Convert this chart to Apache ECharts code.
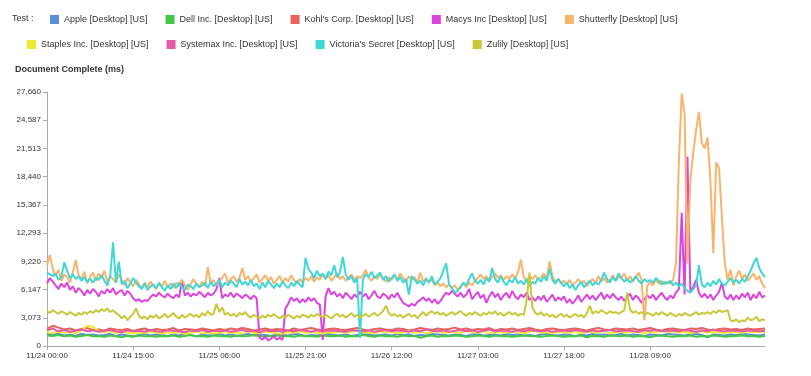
<!DOCTYPE html>
<html>
<head>
<meta charset="utf-8">
<script src="https://cdn.jsdelivr.net/npm/echarts@6/dist/echarts.min.js"></script>
<style>
  html, body { margin: 0; padding: 0; background: #fff; }
  #chart { width: 811px; height: 376px; }
</style>
</head>
<body>
<div id="chart"></div>
<script>
// x values are hours since 11/24 00:00
const xTickLabels = ['11/24 00:00', '11/24 15:00', '11/25 06:00', '11/25 21:00',
  '11/26 12:00', '11/27 03:00', '11/27 18:00', '11/28 09:00']
const xTickStep = 15
const yMax = 27660
const ySteps = 9

const seriesNames = ['Apple [Desktop] [US]', 'Dell Inc. [Desktop] [US]', "Kohl's Corp. [Desktop] [US]",
  'Macys Inc [Desktop] [US]', 'Shutterfly [Desktop] [US]', 'Staples Inc. [Desktop] [US]',
  'Systemax Inc. [Desktop] [US]', "Victoria's Secret [Desktop] [US]", 'Zulily [Desktop] [US]']
const seriesColors = ['#5590d8', '#45c845', '#e8625a', '#dd44dd', '#f8b46c', '#f2e830', '#e35aa6', '#3fd8d4', '#c8c83a']

// hourly samples
const apple = [
  1300, 1200, 1350, 1150, 1250, 1100, 1300, 1200, 1250, 1150,
  1200, 1300, 1100, 1250, 1150, 1050, 1200, 1300, 1150, 1250,
  1200, 1100, 1250, 1150, 1300, 1200, 1050, 1250, 1150, 1200,
  1300, 1150, 1250, 1100, 1200, 1300, 1150, 1250, 1200, 1100,
  1250, 1200, 1150, 1300, 1250, 1100, 1200, 1150, 1250, 1300,
  1200, 1150, 1250, 1100, 1200, 1300, 1250, 1150, 1200, 1250,
  1150, 1300, 1200, 1250, 1100, 1200, 1150, 1300, 1250, 1200,
  1150, 1250, 1200, 1100, 1250, 1300, 1150, 1200, 1250, 1150,
  1300, 1200, 1250, 1150, 1200, 1100, 1250, 1300, 1200, 1150,
  1250, 1200, 1100, 1250, 1150, 1300, 1200, 1250, 1150, 1200,
  1300, 1150, 1250, 1200, 1100, 1250, 1200, 1150, 1300, 1250,
  1200, 1150, 1250, 1300, 1200, 950, 1250, 1200, 1150, 1250,
  1200, 1300, 1250, 1200, 1150, 1250
]
const dell = [
  1150, 1100, 1200, 1050, 1150, 1000, 1100, 1200, 1050, 1100,
  1000, 1150, 1050, 950, 1100, 1000, 1150, 1050, 1100, 1000,
  1100, 1050, 1150, 1000, 1100, 1200, 1050, 1100, 1000, 1150,
  1050, 1100, 1000, 1150, 1050, 1100, 1200, 1050, 1000, 1100,
  1150, 1050, 1100, 1000, 1150, 1050, 1100, 1000, 1150, 1100,
  1050, 1150, 1000, 1100, 1050, 1200, 1100, 1000, 1150, 1050,
  1100, 1000, 1150, 1050, 1100, 900, 1050, 1150, 1000, 1100,
  1050, 1150, 1100, 1000, 1050, 1150, 1100, 1000, 1150, 1050,
  1100, 1000, 1050, 1150, 1100, 1050, 1000, 1100, 1150, 1050,
  1000, 1100, 1050, 1150, 950, 1100, 1050, 1000, 1150, 1100,
  1050, 1150, 1000, 1100, 1050, 950, 1100, 1150, 1050, 1000,
  1100, 1050, 1150, 1000, 1100, 1050, 1150, 1100, 1000, 1050,
  1100, 1150, 1050, 1100, 1000, 1100
]
const kohls = [
  1900, 2200, 2000, 1800, 1900, 1700, 1850, 1950, 1750, 1800,
  1700, 1900, 1800, 1750, 1850, 1650, 1800, 1900, 1700, 1850,
  1750, 1800, 1950, 1700, 1850, 1800, 1750, 1900, 1800, 1700,
  1850, 1750, 1900, 1800, 1950, 1850, 1700, 1800, 1900, 1750,
  1850, 1800, 1700, 1900, 1750, 1850, 1950, 1800, 1700, 1850,
  1900, 1800, 1750, 1850, 1950, 1800, 1700, 1850, 1900, 1800,
  1750, 1900, 1850, 1700, 1800, 1950, 1850, 1750, 1900, 1800,
  1850, 2000, 1800, 1900, 1750, 1850, 1800, 1950, 1700, 1850,
  1800, 1900, 1750, 1850, 1950, 1800, 1700, 1850, 1900, 1800,
  1750, 1850, 1900, 1800, 1700, 1850, 1950, 1800, 1750, 1900,
  1850, 1800, 1900, 1750, 1850, 1950, 1800, 1700, 1850, 1900,
  1800, 1750, 1900, 1850, 1950, 1800, 1700, 1850, 1900, 1800,
  1850, 1750, 1900, 1800, 1850, 1900
]
const staples = [
  1500, 1400, 1600, 1450, 1550, 1350, 1700, 2200, 2100, 1600,
  1500, 1650, 1400, 1550, 1450, 1350, 1500, 1400, 1600, 1450,
  1350, 1500, 1400, 1550, 1300, 1450, 1600, 1400, 1500, 1350,
  1450, 1550, 1400, 1500, 1350, 1600, 1450, 1400, 1550, 1500,
  1400, 1350, 1500, 1450, 1600, 1400, 1550, 1450, 1350, 1500,
  1450, 1600, 1400, 1550, 1700, 1450, 1500, 1400, 1600, 1500,
  1550, 1400, 1500, 1650, 1450, 1550, 1400, 1500, 1600, 1450,
  1500, 1550, 1400, 1650, 1500, 1450, 1600, 1400, 1550, 1500,
  1450, 1600, 1500, 1400, 1550, 1650, 1450, 1500, 1400, 1550,
  1500, 1450, 1600, 1400, 1550, 1500, 1450, 1650, 1400, 1500,
  1550, 1450, 1600, 1500, 1400, 1550, 1450, 1700, 1500, 1600,
  1450, 1550, 1400, 1500, 1600, 1450, 1550, 1500, 1400, 1550,
  1500, 1450, 1600, 1500, 1550, 1500
]
const systemax = [
  1700, 1900, 1600, 1750, 1550, 1650, 1800, 1600, 1700, 1550,
  1650, 1750, 1600, 1500, 1700, 1600, 1650, 1550, 1750, 1600,
  1550, 1700, 1650, 1600, 1500, 1700, 1600, 1750, 1550, 1650,
  1600, 1700, 1550, 1650, 1750, 1600, 1650, 1500, 1700, 1600,
  1650, 1550, 1700, 1600, 1750, 1650, 1550, 1700, 1600, 1650,
  1700, 1600, 1550, 1750, 1650, 1600, 1700, 1550, 1650, 1750,
  1600, 1700, 1650, 1550, 1700, 1600, 1800, 1650, 1600, 1700,
  1550, 1650, 1750, 1600, 1700, 1550, 1650, 1800, 1600, 1700,
  1650, 1550, 1700, 1600, 1750, 1650, 1600, 1700, 1550, 1650,
  1700, 1600, 1750, 1650, 1550, 1700, 1600, 1650, 1750, 1600,
  1650, 1700, 1600, 1550, 1700, 1650, 1750, 1600, 1650, 1700,
  1600, 1750, 1650, 1550, 1700, 1600, 1800, 1650, 1600, 1700,
  1650, 1600, 1700, 1650, 1600, 1650
]

// half-hourly samples
const macys = [
  6800, 7400, 7000, 6600, 6200, 6800, 6400, 6900, 6100, 6500,
  5800, 6300, 6000, 5500, 6100, 5700, 6200, 5900, 5400, 6000,
  5700, 6200, 5800, 6300, 5600, 5900, 6100, 5500, 6000, 5700,
  5200, 4900, 5100, 4800, 5000, 4900, 5300, 5600, 5400, 5800,
  5500, 5300, 5700, 5400, 5200, 5600, 5300, 7200, 5500, 5800,
  5400, 5700, 5500, 5900, 5600, 5300, 5800, 5500, 5700, 6200,
  7400, 5200, 5600, 5400, 5800, 5300, 5700, 5500, 5200, 5600,
  5400, 5100, 5500, 5200, 900, 700, 1000, 600, 800, 1100,
  700, 900, 650, 4100, 4600, 5300, 4900, 5200, 4700, 5100,
  4800, 5300, 4900, 5200, 4700, 4500, 650, 5400, 6300, 5600,
  5900, 5400, 5700, 5200, 5800, 5500, 5100, 5600, 5300, 5900,
  5400, 5700, 5100, 5500, 6000, 5400, 5200, 5700, 5500, 5100,
  5600, 5300, 5800, 5200, 4700, 4500, 4300, 4600, 4400, 4800,
  5000, 5300, 4900, 5200, 4700, 5100, 4600, 4900, 5400, 5800,
  5600, 6000, 5700, 5400, 5800, 5300, 5600, 6200, 5100, 5500,
  5900, 5200, 5600, 4700, 5400, 5900, 5300, 5700, 5000, 5500,
  5800, 5200, 6000, 5400, 5100, 5600, 5300, 5800, 5000, 5300,
  4900, 5400, 5000, 5500, 4800, 5200, 5600, 4900, 5300, 5000,
  5400, 4700, 5100, 4600, 5000, 5500, 4800, 5200, 5600, 5100,
  5500, 5000, 5400, 5800, 5100, 5600, 5200, 5700, 5300, 5000,
  5400, 4900, 5300, 5700, 5000, 5500, 5200, 4700, 5100, 5500,
  5200, 5600, 5000, 5400, 5800, 5300, 5000, 5500, 5200, 5800,
  6200, 14500, 5600, 20600, 6000, 6400, 7200, 5800, 5300, 5700,
  5200, 5600, 5000, 5500, 5900, 6900, 5400, 5100, 5600, 5000,
  5500, 5100, 5700, 5300, 5800, 5000, 5600, 5200, 5900, 5300, 5500
]
const shutterfly = [
  8800, 9900, 8400, 7600, 8300, 7100, 7800, 7500, 6900, 8000,
  9400, 7700, 7300, 8100, 6800, 7500, 8000, 7100, 7900, 7400,
  8200, 7000, 7600, 7300, 6900, 7800, 7200, 6600, 7400, 6900,
  6500, 7200, 6700, 6300, 6900, 6400, 7000, 6600, 6200, 6800,
  6500, 7100, 6400, 6800, 6300, 6900, 6500, 7200, 6600, 6100,
  6700, 7300, 6800, 6400, 7000, 6500, 8600, 6800, 7200, 6600,
  7100, 7400, 7900, 6900, 7300, 7600, 7000, 7400, 8500, 7200,
  7600, 7000, 7400, 7800, 6900, 7300, 7700, 7100, 7500, 6800,
  7200, 7600, 6900, 7400, 7000, 7700, 7200, 6800, 7300, 6900,
  7400, 7100, 7600, 7000, 7500, 7200, 7800, 7300, 7700, 7100,
  7500, 7900, 7300, 7600, 7100, 7500, 7800, 7200, 7600, 7400,
  7700, 8300, 7500, 7100, 7600, 7300, 7800, 7400, 7000, 7500,
  7200, 7700, 7300, 7900, 7400, 7000, 7600, 7200, 7500, 6900,
  8000, 7000, 7400, 6900, 7200, 6600, 6900, 6500, 6800, 6400,
  6700, 6300, 6600, 6100, 6500, 6800, 6400, 6900, 6600, 7100,
  7400, 7800, 7300, 7600, 7100, 7500, 7900, 7400, 7700, 7200,
  7600, 7300, 7800, 7400, 8000, 9400, 7500, 7100, 7600, 7300,
  7700, 7200, 7500, 7900, 7400, 9200, 7600, 7000, 7300, 6800,
  7100, 6700, 7200, 6600, 6900, 7300, 6800, 7100, 6500, 7000,
  7300, 6800, 7600, 7000, 7400, 6900, 7200, 7700, 7100, 7500,
  7400, 7900, 7100, 7600, 7000, 7500, 8000, 7200, 2800, 6500,
  7000, 6600, 7200, 6800, 7100, 6700, 7000, 6800, 7200, 9000,
  20000, 27500, 25300, 9000, 18000, 21000, 23500, 25500, 22100, 21500,
  22700, 18000, 10100, 20000, 19400, 14000, 9000, 7200, 8300, 6600,
  7600, 8200, 7300, 7800, 7100, 7500, 7900, 7200, 7600, 6800, 6300
]
const victorias = [
  8000, 7800, 7600, 7900, 7200, 7500, 9100, 8200, 7400, 7800,
  7300, 7600, 7100, 7500, 7000, 7300, 6900, 7400, 7200, 7700,
  7100, 6600, 7600, 11300, 6900, 9200, 6700, 7100, 6300, 6800,
  7400, 6900, 6500, 6200, 6800, 6100, 6500, 6700, 6300, 6900,
  6400, 6000, 6600, 6200, 6800, 6300, 6900, 6400, 6100, 6700,
  6500, 6200, 6800, 6400, 6600, 6900, 6300, 7000, 6500, 6800,
  7200, 6400, 6900, 6600, 7100, 6800, 6400, 7300, 6700, 7000,
  6600, 7200, 6500, 6800, 6200, 6900, 6400, 7100, 6700, 6300,
  6800, 6400, 7000, 6600, 6300, 6900, 6500, 7100, 6700, 6400,
  9600, 8400, 8000, 7400, 8200, 7600, 7900, 7300, 8100, 7700,
  8800, 7500, 8000, 9700, 7800, 7200, 7600, 6900, 7400, 870,
  7300, 7800, 7500, 8100, 7400, 7700, 8000, 7200, 7600, 7000,
  7400, 7800, 7100, 7500, 6900, 7300, 5600, 7600, 7200, 6800,
  7100, 6600, 7300, 6900, 7600, 6700, 7000, 7400, 8200, 9000,
  6700, 6300, 5800, 6000, 6400, 6900, 6600, 7300, 7900, 7100,
  6800, 7200, 6700, 7400, 7000, 8500, 7300, 6900, 7600, 7000,
  6600, 7200, 6900, 7500, 6800, 7100, 6700, 7300, 6500, 7000,
  6800, 7400, 7000, 7600, 7100, 8400, 7200, 6800, 7300, 6900,
  6500, 6900, 6300, 6700, 6100, 6600, 7000, 6400, 6800, 7100,
  6600, 6900, 6700, 7200, 8000, 7300, 6900, 7500, 7100, 7900,
  7400, 7000, 7300, 6900, 7200, 7600, 7100, 6800, 7300, 7000,
  7200, 6900, 7400, 7100, 6700, 7000, 6800, 7100, 6600, 6900,
  6500, 6800, 6300, 6000, 5800, 6200, 6600, 8800, 6700, 6400,
  6900, 6500, 7100, 6700, 7300, 6800, 6600, 7000, 7400, 6900,
  7200, 6800, 7300, 7000, 7600, 8200, 9000, 9600, 8500, 7900, 7500
]
const zulily = [
  3800, 3600, 3900, 3700, 3500, 3800, 3600, 3400, 3700, 3500,
  3300, 3600, 3400, 3700, 3500, 3800, 3600, 3900, 3700, 4000,
  3800, 4100, 3700, 3900, 3600, 3400, 3000, 3300, 2800, 3200,
  3500, 4100, 3300, 3000, 3200, 2900, 3300, 3100, 3400, 3000,
  3200, 3500, 3100, 3300, 3600, 3200, 3000, 3400, 3100, 3300,
  3500, 3200, 3400, 3100, 3600, 3300, 3800, 3400, 3500, 4600,
  3700, 4200, 3400, 3600, 3300, 3500, 3200, 3600, 3400, 3700,
  3300, 3100, 3400, 3200, 3000, 3300, 3100, 3400, 3200, 3500,
  3200, 3000, 3300, 3100, 3400, 3200, 3000, 3300, 3100, 3400,
  3300, 3100, 3400, 3200, 3500, 3300, 3100, 3400, 3200, 3000,
  3300, 3500, 3200, 3400, 3100, 3300, 3600, 3200, 3400, 3100,
  3300, 3500, 3200, 3400, 3600, 3300, 3500, 3800, 4400, 3600,
  3300, 3500, 3200, 3400, 3100, 3300, 3500, 3200, 3400, 3000,
  3400, 3700, 3300, 3600, 3800, 3500, 3700, 3400, 3600, 3300,
  3500, 3700, 3400, 3600, 3800, 3500, 3300, 3600, 3400, 3700,
  3500, 3300, 3600, 3400, 3700, 3500, 3800, 3400, 3600, 3300,
  3500, 3700, 3400, 3600, 3300, 3500, 3400, 5000, 8000, 4200,
  3600, 3400, 3700, 3300, 3500, 3200, 3400, 3100, 3300, 3500,
  3200, 3400, 3100, 3300, 3500, 3200, 3400, 3100, 3600, 4400,
  3500, 3800, 3600, 3900, 3700, 3500, 3800, 3600, 3700, 3500,
  3700, 3900, 5800, 4000, 3600, 3800, 3500, 3700, 3400, 3600,
  3500, 3300, 3600, 3400, 3700, 3500, 3300, 3600, 3400, 3200,
  3500, 3300, 3600, 3400, 3300, 3500, 3700, 3400, 3600, 3500,
  3700, 3500, 3800, 3600, 3900, 3700, 3800, 3900, 2800, 2700,
  2900, 2600, 2800, 2700, 3100, 2800, 2900, 3200, 2700, 2900, 2800
]

const seriesValues = [apple, dell, kohls, macys, shutterfly, staples, systemax, victorias, zulily]
const seriesSteps = [1, 1, 1, 0.5, 0.5, 1, 1, 0.5, 0.5]

const toPairs = (vals, step) => vals.map((v, i) => [i * step, v])

const chart = echarts.init(document.getElementById('chart'))
const font = 'Liberation Sans, Arial, sans-serif'
const xTicks = xTickLabels.map((l, i) => i * xTickStep)

const option = {
  animation: false,
  textStyle: { fontFamily: font },
  title: [
    {
      text: 'Test :',
      left: 12,
      top: 14,
      padding: 0,
      textStyle: { fontSize: 9, fontWeight: 'normal', color: '#333', fontFamily: font }
    },
    {
      text: 'Document Complete (ms)',
      left: 15,
      top: 65,
      padding: 0,
      textStyle: { fontSize: 9, fontWeight: 'bold', color: '#333', fontFamily: font }
    }
  ],
  legend: [
    {
      data: seriesNames.slice(0, 5),
      left: 50,
      top: 15,
      padding: 0,
      itemWidth: 9,
      itemHeight: 9,
      itemGap: 18,
      icon: 'rect',
      textStyle: { fontSize: 9, color: '#333', fontFamily: font }
    },
    {
      data: seriesNames.slice(5),
      left: 27,
      top: 40,
      padding: 0,
      itemWidth: 9,
      itemHeight: 9,
      itemGap: 18,
      icon: 'rect',
      textStyle: { fontSize: 9, color: '#333', fontFamily: font }
    }
  ],
  grid: {
    left: 47,
    right: 46,
    top: 92,
    bottom: 30
  },
  xAxis: {
    type: 'value',
    min: 0,
    max: 125,
    axisLine: { show: true, lineStyle: { color: '#aaa' } },
    axisTick: { show: true, customValues: xTicks, length: 4, lineStyle: { color: '#aaa' } },
    axisLabel: {
      customValues: xTicks,
      fontSize: 8,
      color: '#333',
      margin: 6,
      formatter: function (v) {
        return xTickLabels[Math.round(v / xTickStep)] || ''
      }
    },
    splitLine: { show: false }
  },
  yAxis: {
    type: 'value',
    min: 0,
    max: yMax,
    interval: yMax / ySteps,
    axisLine: { show: true, lineStyle: { color: '#aaa' } },
    axisTick: { show: true, length: 4, lineStyle: { color: '#aaa' } },
    axisLabel: {
      fontSize: 8,
      color: '#333',
      margin: 6,
      formatter: function (v) {
        return Math.round(v).toLocaleString('en-US')
      }
    },
    splitLine: { show: false }
  },
  series: seriesNames.map((name, i) => ({
    name: name,
    type: 'line',
    showSymbol: false,
    color: seriesColors[i],
    lineStyle: { width: 2 },
    data: toPairs(seriesValues[i], seriesSteps[i])
  }))
}

chart.setOption(option)
</script>
</body>
</html>
